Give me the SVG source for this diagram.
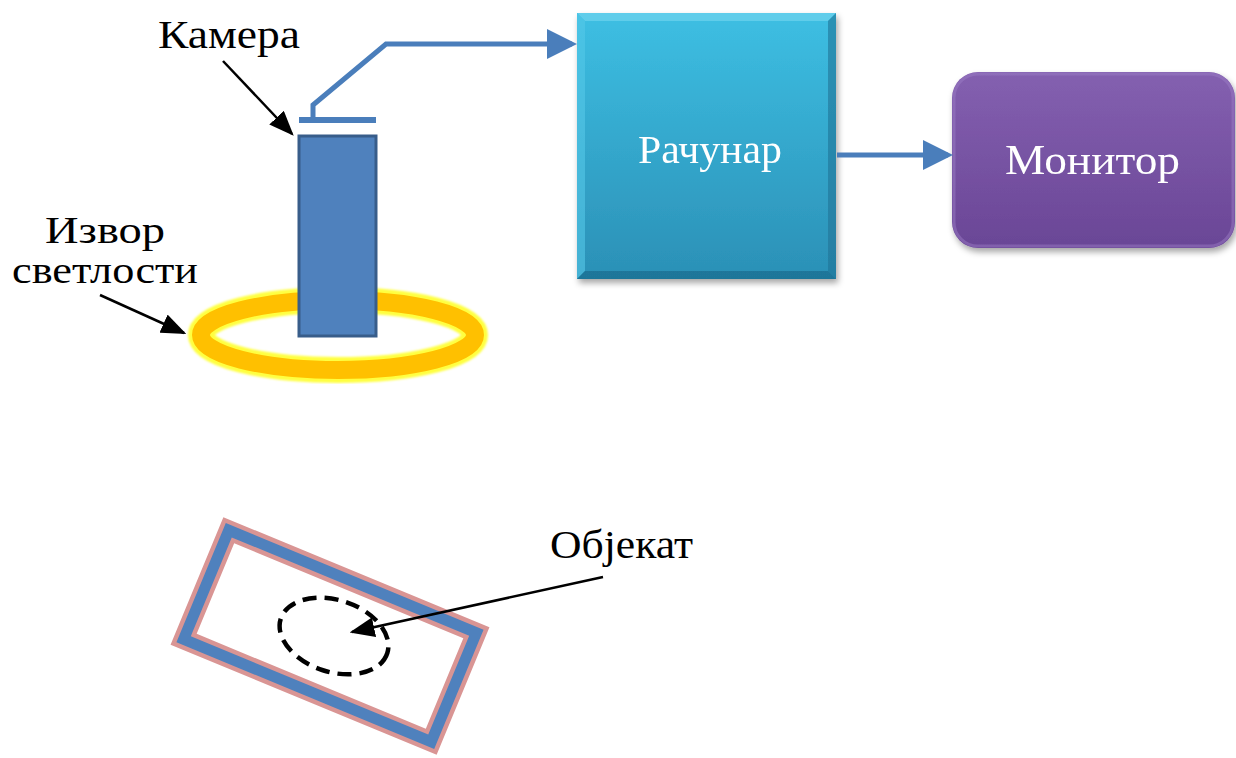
<svg xmlns="http://www.w3.org/2000/svg" width="1236" height="758" viewBox="0 0 1236 758">
  <style>
    .lbl { font-family: "Liberation Serif", "DejaVu Serif", "Times New Roman", serif; font-size: 40px; fill: #000; }
    .lbl-small { font-size: 37px; }
    .wlbl { font-family: "Liberation Serif", "DejaVu Serif", "Times New Roman", serif; fill: #fff; }
    .blue-link { fill: none; stroke: #4a7ebb; stroke-width: 5; stroke-linejoin: miter; }
    .pointer { fill: none; stroke: #000; stroke-width: 2.5; }
  </style>
  <defs>
    <marker id="blueHead" markerWidth="6" markerHeight="6" refX="5" refY="3" orient="auto" markerUnits="strokeWidth">
      <path d="M0,0 L6,3 L0,6 z" fill="#4a7ebb"/>
    </marker>
    <marker id="blackHead" markerWidth="10" markerHeight="8" refX="9" refY="4" orient="auto" markerUnits="strokeWidth">
      <path d="M0,0 L10,4 L0,8 z" fill="#000"/>
    </marker>
    <linearGradient id="pcFill" x1="0" y1="0" x2="0" y2="1">
      <stop offset="0" stop-color="#3dbfe3"/>
      <stop offset="1" stop-color="#2b90b6"/>
    </linearGradient>
    <linearGradient id="monFill" x1="0" y1="0" x2="0" y2="1">
      <stop offset="0" stop-color="#8460b0"/>
      <stop offset="1" stop-color="#6a4696"/>
    </linearGradient>
    <filter id="shadow" x="-10%" y="-10%" width="125%" height="125%">
      <feDropShadow dx="2" dy="4" stdDeviation="3" flood-color="#000" flood-opacity="0.35"/>
    </filter>
    <filter id="glow" x="-10%" y="-20%" width="120%" height="140%">
      <feGaussianBlur stdDeviation="1"/>
    </filter>
  </defs>

  <!-- light ring around the camera -->
  <g id="light-source">
    <ellipse cx="338" cy="335" rx="137" ry="35" fill="none" stroke="#ffff40" stroke-width="26" filter="url(#glow)"/>
    <ellipse cx="338" cy="335" rx="137" ry="35" fill="none" stroke="#ffc000" stroke-width="18"/>
  </g>

  <!-- camera: cap plate and body -->
  <g id="camera">
    <line x1="299" y1="120" x2="376" y2="120" stroke="#4a7ebb" stroke-width="6"/>
    <rect x="299" y="136" width="77" height="200" fill="#4f81bd" stroke="#385d8a" stroke-width="3"/>
  </g>

  <!-- computer -->
  <g id="computer" filter="url(#shadow)">
    <rect x="577" y="13" width="259" height="266" fill="url(#pcFill)"/>
    <polygon points="577,13 836,13 828,21 585,21" fill="#6fd3ee" opacity="0.7"/>
    <polygon points="577,13 585,21 585,271 577,279" fill="#55c8e8" opacity="0.6"/>
    <polygon points="836,13 836,279 828,271 828,21" fill="#1f7396" opacity="0.6"/>
    <polygon points="577,279 836,279 828,271 585,271" fill="#1b6b8d" opacity="0.7"/>
    <text class="wlbl" x="638" y="163" font-size="40" textLength="144" lengthAdjust="spacingAndGlyphs">Рачунар</text>
  </g>

  <!-- monitor -->
  <g id="monitor" filter="url(#shadow)">
    <rect x="952" y="72" width="283" height="176" rx="26" ry="26" fill="url(#monFill)"/>
    <rect x="954" y="74" width="279" height="172" rx="24" ry="24" fill="none" stroke="#9a7cc4" stroke-width="3" opacity="0.5"/>
    <text class="wlbl" x="1005" y="174" font-size="42" textLength="175" lengthAdjust="spacingAndGlyphs">Монитор</text>
  </g>

  <!-- object on a tilted plate -->
  <g id="object">
    <g transform="rotate(22.5 330 636)">
      <rect x="196" y="577" width="268" height="118" fill="none" stroke="#d99594" stroke-width="20"/>
      <rect x="196" y="577" width="268" height="118" fill="none" stroke="#4f81bd" stroke-width="11"/>
    </g>
    <ellipse cx="334" cy="636" rx="56" ry="36" transform="rotate(18 334 636)" fill="none" stroke="#000" stroke-width="4.5" stroke-dasharray="14 8"/>
  </g>

  <!-- labels -->
  <g id="labels">
    <text class="lbl" x="158" y="48" textLength="142" lengthAdjust="spacingAndGlyphs">Камера</text>
    <text class="lbl lbl-small" x="45" y="243" textLength="120" lengthAdjust="spacingAndGlyphs">Извор</text>
    <text class="lbl lbl-small" x="12" y="283" textLength="186" lengthAdjust="spacingAndGlyphs">светлости</text>
    <text class="lbl" x="550" y="558" textLength="143" lengthAdjust="spacingAndGlyphs">Објекат</text>
  </g>

  <!-- connectors -->
  <g id="connectors">
    <polyline class="blue-link" points="313,120 313,105 386,44 572,44" marker-end="url(#blueHead)"/>
    <line class="blue-link" x1="837" y1="155" x2="948" y2="155" marker-end="url(#blueHead)"/>
    <line class="pointer" x1="223" y1="61" x2="292" y2="134" marker-end="url(#blackHead)"/>
    <line class="pointer" x1="100" y1="295" x2="184" y2="333" marker-end="url(#blackHead)"/>
    <line class="pointer" x1="603" y1="577" x2="352" y2="632" marker-end="url(#blackHead)"/>
  </g>
</svg>
